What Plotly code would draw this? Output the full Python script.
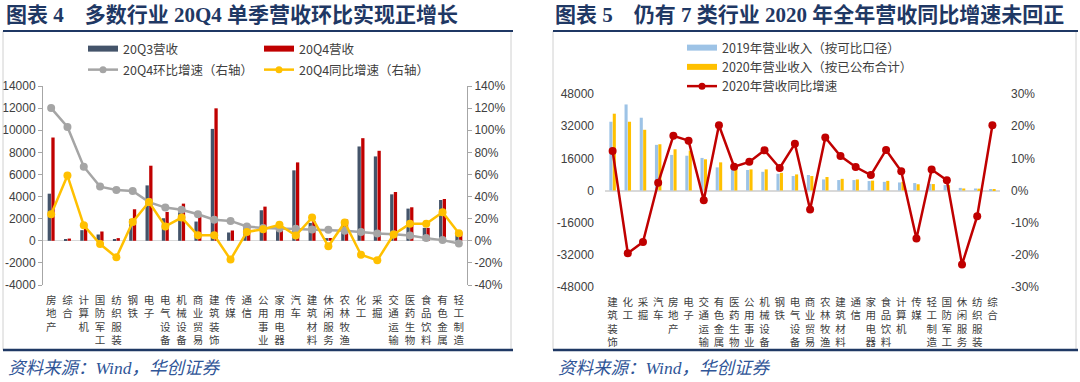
import plotly.graph_objects as go

# ---------------- Data: left chart (图表4) ----------------
cats_left = ["房地产", "综合", "计算机", "国防军工", "纺织服装", "钢铁", "电子", "电气设备",
             "机械设备", "商业贸易", "建筑装饰", "传媒", "通信", "公用事业", "家用电器", "汽车",
             "建筑材料", "休闲服务", "农林牧渔", "化工", "采掘", "交通运输", "医药生物", "食品饮料",
             "有色金属", "轻工制造"]
rev_20q3 = [4260, 100, 960, 570, 150, 1980, 5010, 2040, 2580, 1740, 10120, 750, 1400, 2760,
            1300, 6370, 1620, 240, 1680, 8530, 7630, 4200, 2910, 1170, 3690, 810]
rev_20q4 = [9340, 200, 1560, 840, 240, 2850, 6790, 2610, 3360, 2190, 11980, 930, 1450, 3090,
            1500, 7090, 1800, 250, 1920, 9280, 8140, 4410, 3030, 1170, 3780, 810]
qoq_20q4 = [1.20, 1.03, 0.67, 0.49, 0.46, 0.45, 0.35, 0.30, 0.28, 0.24, 0.19, 0.18, 0.13, 0.115,
            0.112, 0.108, 0.102, 0.10, 0.09, 0.08, 0.066, 0.06, 0.048, 0.024, 0.006, -0.024]
yoy_20q4 = [0.24, 0.59, 0.14, -0.03, -0.15, 0.17, 0.35, 0.13, 0.21, 0.05, 0.05, -0.17, 0.08, 0.105,
            0.144, 0.048, 0.21, -0.05, 0.165, -0.126, -0.177, 0.057, 0.153, 0.153, 0.258, 0.069]
left_y_ticks = [-4000, -2000, 0, 2000, 4000, 6000, 8000, 10000, 12000, 14000]
left_y_labels = ["-4000", "-2000", "0", "2000", "4000", "6000", "8000", "10000", "12000", "14000"]
left_y2_ticks = [-0.4, -0.2, 0, 0.2, 0.4, 0.6, 0.8, 1.0, 1.2, 1.4]
left_y2_labels = ["-40%", "-20%", "0%", "20%", "40%", "60%", "80%", "100%", "120%", "140%"]

# ---------------- Data: right chart (图表5) ----------------
cats_right = ["建筑装饰", "化工", "采掘", "汽车", "房地产", "电子", "交通运输", "有色金属",
              "医药生物", "公用事业", "机械设备", "钢铁", "电气设备", "商业贸易", "农林牧渔",
              "建筑材料", "通信", "家用电器", "食品饮料", "计算机", "传媒", "轻工制造", "国防军工",
              "休闲服务", "纺织服装", "综合"]
rev_2019 = [34200, 42800, 36200, 22700, 17700, 17300, 16200, 11500, 10500, 10200, 9300, 8300,
            7200, 7700, 5500, 5200, 5200, 4700, 4300, 4000, 3700, 3300, 2700, 1300, 1000, 500]
rev_2020 = [38200, 34200, 30200, 23000, 20500, 19800, 15500, 14000, 10800, 10500, 10500, 8800,
            8000, 7200, 6700, 5800, 5500, 4900, 4800, 4300, 3100, 3200, 2700, 1000, 920, 600]
yoy_2020 = [0.123, -0.195, -0.16, 0.024, 0.17, 0.155, -0.03, 0.203, 0.074, 0.089, 0.125, 0.07,
            0.145, -0.059, 0.165, 0.107, 0.073, 0.048, 0.126, 0.06, -0.149, 0.065, 0.032, -0.23,
            -0.08, 0.203]
right_y_ticks = [-48000, -32000, -16000, 0, 16000, 32000, 48000]
right_y_labels = ["-48000", "-32000", "-16000", "0", "16000", "32000", "48000"]
right_y2_ticks = [-0.3, -0.2, -0.1, 0, 0.1, 0.2, 0.3]
right_y2_labels = ["-30%", "-20%", "-10%", "0%", "10%", "20%", "30%"]

# ---------------- Layout helpers ----------------
W, H = 1080, 382
def fx(px):
    return px / W
def fy(py):
    return 1 - py / H

NAVY = "#1F3864"
TICK_FONT = dict(family="Liberation Sans, Arial", size=12, color="#404040")
CAT_FONT = dict(family="Noto Sans CJK SC", size=10.5, color="#404040")
LEG_FONT = dict(family="Noto Sans CJK SC", size=12.5, color="#404040")
TITLE_FAMILY = "Liberation Serif, Noto Sans CJK SC"

fig = go.Figure()

# Left chart traces
fig.add_trace(go.Bar(x=cats_left, y=rev_20q3, marker_color="#44546A", marker_line_width=0,
                     xaxis="x", yaxis="y", showlegend=False, name="20Q3营收"))
fig.add_trace(go.Bar(x=cats_left, y=rev_20q4, marker_color="#C00000", marker_line_width=0,
                     xaxis="x", yaxis="y", showlegend=False, name="20Q4营收"))
fig.add_trace(go.Scatter(x=cats_left, y=qoq_20q4, mode="lines+markers", xaxis="x", yaxis="y2",
                         line=dict(color="#A5A5A5", width=2.5), marker=dict(size=8, color="#A5A5A5"),
                         showlegend=False))
fig.add_trace(go.Scatter(x=cats_left, y=yoy_20q4, mode="lines+markers", xaxis="x", yaxis="y2",
                         line=dict(color="#FFC000", width=2.5), marker=dict(size=8, color="#FFC000"),
                         showlegend=False))

# Right chart traces
fig.add_trace(go.Bar(x=cats_right, y=rev_2019, marker_color="#9DC3E6", marker_line_width=0,
                     xaxis="x2", yaxis="y3", showlegend=False))
fig.add_trace(go.Bar(x=cats_right, y=rev_2020, marker_color="#FFC000", marker_line_width=0,
                     xaxis="x2", yaxis="y3", showlegend=False))
fig.add_trace(go.Scatter(x=cats_right, y=yoy_2020, mode="lines+markers", xaxis="x2", yaxis="y4",
                         line=dict(color="#C00000", width=2.5), marker=dict(size=8, color="#C00000"),
                         showlegend=False))

# Legend entries
def leg(name, color, legend, marker=False, width=6):
    fig.add_trace(go.Scatter(x=[None], y=[None], name=name, legend=legend,
                             mode="lines+markers" if marker else "lines",
                             line=dict(color=color, width=width if not marker else 2.5),
                             marker=dict(size=7, color=color), xaxis="x", yaxis="y"))

leg("20Q3营收", "#44546A", "legend")
leg("20Q4营收", "#C00000", "legend")
leg("20Q4环比增速（右轴）", "#A5A5A5", "legend2", marker=True)
leg("20Q4同比增速（右轴）", "#FFC000", "legend2", marker=True)
leg("2019年营业收入（按可比口径）", "#9DC3E6", "legend3")
leg("2020年营业收入（按已公布合计）", "#FFC000", "legend3")
leg("2020年营收同比增速", "#C00000", "legend3", marker=True)

shapes = []
annotations = []
# Panel boxes
for x0, x1 in [(3, 511), (553, 1076)]:
    shapes.append(dict(type="rect", xref="paper", yref="paper", x0=fx(x0), x1=fx(x1),
                       y0=fy(350), y1=fy(31), line=dict(color="#D0D0D0", width=1)))
    shapes.append(dict(type="line", xref="paper", yref="paper", x0=fx(x0), x1=fx(x1 + 2),
                       y0=fy(31), y1=fy(31), line=dict(color=NAVY, width=2)))
    shapes.append(dict(type="line", xref="paper", yref="paper", x0=fx(x0), x1=fx(x1 + 2),
                       y0=fy(350), y1=fy(350), line=dict(color=NAVY, width=2.5)))

annotations.append(dict(text="<b>图表 4 &nbsp;&nbsp;&nbsp;多数行业 20Q4 单季营收环比实现正增长</b>",
                        x=fx(4), y=fy(15), xref="paper", yref="paper", xanchor="left",
                        yanchor="middle", showarrow=False,
                        font=dict(family=TITLE_FAMILY, size=21, color=NAVY)))
annotations.append(dict(text="<b>图表 5 &nbsp;&nbsp;&nbsp;仍有 7 类行业 2020 年全年营收同比增速未回正</b>",
                        x=fx(553), y=fy(15), xref="paper", yref="paper", xanchor="left",
                        yanchor="middle", showarrow=False,
                        font=dict(family=TITLE_FAMILY, size=21, color=NAVY)))
for x0 in (6, 556):
    annotations.append(dict(text="<i>资料来源：Wind，华创证券</i>", x=fx(x0), y=fy(368),
                            xref="paper", yref="paper", xanchor="left", yanchor="middle", showarrow=False,
                            font=dict(family="Liberation Serif, Noto Sans CJK SC", size=17.5,
                                      color="#2F5597")))

fig.update_layout(
    width=W, height=H, margin=dict(l=0, r=0, t=0, b=0, autoexpand=False),
    paper_bgcolor="white", plot_bgcolor="white",
    barmode="group", bargap=0.55, bargroupgap=0.1,
    xaxis=dict(domain=[fx(43), fx(467)], anchor="y", type="category", automargin=False,
               range=[-0.5, len(cats_left) - 0.5],
               tickvals=cats_left, ticktext=["<br>".join(c) for c in cats_left],
               tickfont=CAT_FONT, showline=False, ticks="", showgrid=False, zeroline=False,
               ticklabelstandoff=7),
    yaxis=dict(domain=[fy(285), fy(86)], anchor="x", range=[-4000, 14000], tickvals=left_y_ticks,
               ticktext=left_y_labels, automargin=False,
               tickfont=TICK_FONT, showline=True, linecolor="#A6A6A6", linewidth=1, ticks="outside",
               ticklen=4, tickcolor="#A6A6A6", showgrid=False, zeroline=True, zerolinecolor="#D9D9D9",
               zerolinewidth=1),
    yaxis2=dict(domain=[fy(285), fy(86)], anchor="x", overlaying="y", side="right",
                range=[-0.4, 1.4], tickvals=left_y2_ticks, ticktext=left_y2_labels, automargin=False,
                tickfont=TICK_FONT,
                showline=True, linecolor="#A6A6A6", linewidth=1, ticks="outside", ticklen=4,
                tickcolor="#A6A6A6", showgrid=False, zeroline=False),
    xaxis2=dict(domain=[fx(605), fx(1000)], anchor="y3", type="category", automargin=False,
                range=[-0.5, len(cats_right) - 0.5],
                tickvals=cats_right, ticktext=["<br>".join(c) for c in cats_right],
                tickfont=CAT_FONT, showline=False, ticks="", showgrid=False, zeroline=False,
                ticklabelstandoff=7),
    yaxis3=dict(domain=[fy(287), fy(94)], anchor="x2", range=[-48000, 48000], tickvals=right_y_ticks,
                ticktext=right_y_labels, automargin=False,
                tickfont=TICK_FONT, showline=False, ticks="", showgrid=False, zeroline=True,
                zerolinecolor="#D9D9D9", zerolinewidth=1.5, ticklabelstandoff=10),
    yaxis4=dict(domain=[fy(287), fy(94)], anchor="x2", overlaying="y3", side="right",
                range=[-0.3, 0.3], tickvals=right_y2_ticks, ticktext=right_y2_labels, automargin=False,
                tickfont=TICK_FONT,
                showline=False, ticks="", showgrid=False, zeroline=False, ticklabelstandoff=10),
    legend=dict(orientation="h", x=fx(83), y=fy(49), xanchor="left", yanchor="middle",
                entrywidth=131, entrywidthmode="pixels", font=LEG_FONT, bgcolor="rgba(0,0,0,0)",
                itemwidth=30),
    legend2=dict(orientation="h", x=fx(83), y=fy(70), xanchor="left", yanchor="middle",
                 entrywidth=131, entrywidthmode="pixels", font=LEG_FONT, bgcolor="rgba(0,0,0,0)",
                 itemwidth=30),
    legend3=dict(orientation="v", x=fx(682), y=fy(33), xanchor="left", yanchor="top",
                 font=LEG_FONT, bgcolor="rgba(0,0,0,0)", tracegroupgap=0, itemwidth=30),
    shapes=shapes, annotations=annotations,
)

fig.write_html("out.html", config={"displayModeBar": False},
               post_script="document.body.style.margin='0';")
